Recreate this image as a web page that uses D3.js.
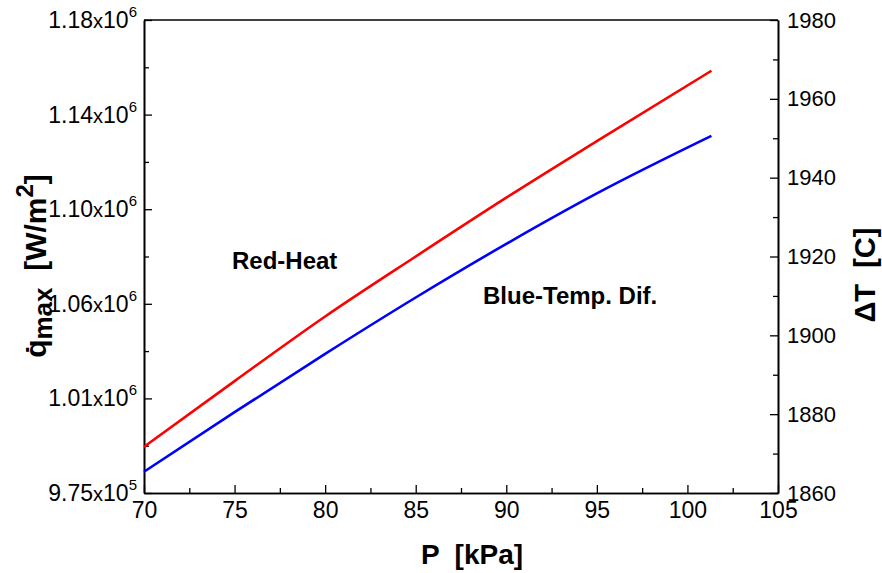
<!DOCTYPE html>
<html><head><meta charset="utf-8">
<script src="https://cdn.jsdelivr.net/npm/d3@7/dist/d3.min.js"></script>
<style>
body{margin:0;background:#fff}
svg text{font-family:Arial,"Liberation Sans",sans-serif;white-space:pre}
</style></head><body>
<svg id="c" width="882" height="573"></svg>
<script>
// data
const pressure = [70, 75, 80, 85, 90, 95, 101.325];
const heatFlux = [995000, 1023500, 1051500, 1077500, 1103000, 1127500, 1158000];
const tempDiff = [1865.4, 1880.5, 1895.3, 1909.6, 1923.2, 1936.0, 1950.6];
const xTicks = [70, 75, 80, 85, 90, 95, 100, 105];
const leftTickMantissa = ["9.75", "1.01", "1.06", "1.10", "1.14", "1.18"];
const leftTickExp = ["5", "6", "6", "6", "6", "6"];
const rightTicks = [1860, 1880, 1900, 1920, 1940, 1960, 1980];

const m = {l: 144, r: 778, t: 20, b: 493};
const svg = d3.select("#c");

const x = d3.scaleLinear().domain([70, 105]).range([m.l, m.r]);
const yL = d3.scaleLinear().domain([975000, 1180000]).range([m.b, m.t]);
const yR = d3.scaleLinear().domain([1860, 1980]).range([m.b, m.t]);

const leftTickVals = leftTickMantissa.map((d, i) => 975000 + i * 41000);
const leftMinor = leftTickVals.slice(0, -1).map(v => v + 20500);
const xMinor = xTicks.slice(0, -1).map(v => v + 2.5);
const rMinor = rightTicks.slice(0, -1).map(v => v + 10);

function styleAxis(g) {
  g.select(".domain").attr("stroke", "#000").attr("stroke-width", 1.6);
  g.selectAll(".tick line").attr("stroke", "#000").attr("stroke-width", 1.3);
}

// bottom axis
const gx = svg.append("g").attr("transform", `translate(0,${m.b})`)
  .call(d3.axisBottom(x).tickValues(xTicks).tickSize(-8).tickPadding(9).tickSizeOuter(0));
styleAxis(gx);
gx.selectAll(".tick text").attr("font-size", 23).attr("fill", "#000")
  .attr("font-family", "Arial, 'Liberation Sans', sans-serif");
const gxm = svg.append("g").attr("transform", `translate(0,${m.b})`)
  .call(d3.axisBottom(x).tickValues(xMinor).tickSize(-5).tickFormat("").tickSizeOuter(0));
styleAxis(gxm);

// left axis
const gl = svg.append("g").attr("transform", `translate(${m.l},0)`)
  .call(d3.axisLeft(yL).tickValues(leftTickVals).tickSize(-8).tickFormat("").tickSizeOuter(0));
styleAxis(gl);
const glm = svg.append("g").attr("transform", `translate(${m.l},0)`)
  .call(d3.axisLeft(yL).tickValues(leftMinor).tickSize(-5).tickFormat("").tickSizeOuter(0));
styleAxis(glm);
const ll = svg.append("g");
leftTickVals.forEach((v, i) => {
  const t = ll.append("text").attr("x", 137).attr("y", yL(v) + 8)
    .attr("text-anchor", "end").attr("font-size", 23).attr("fill", "#000");
  t.append("tspan").text(leftTickMantissa[i]);
  t.append("tspan").attr("font-size", 20).text("x");
  t.append("tspan").text("10");
  t.append("tspan").attr("font-size", 15).attr("dy", -11).text(leftTickExp[i]);
});

// right axis
const gr = svg.append("g").attr("transform", `translate(${m.r},0)`)
  .call(d3.axisRight(yR).tickValues(rightTicks).tickSize(-8).tickPadding(9)
    .tickFormat(d3.format("d")).tickSizeOuter(0));
styleAxis(gr);
gr.selectAll(".tick text").attr("font-size", 22).attr("fill", "#000")
  .attr("font-family", "Arial, 'Liberation Sans', sans-serif");
const grm = svg.append("g").attr("transform", `translate(${m.r},0)`)
  .call(d3.axisRight(yR).tickValues(rMinor).tickSize(-5).tickFormat("").tickSizeOuter(0));
styleAxis(grm);

// top frame line
svg.append("line").attr("x1", m.l).attr("x2", m.r).attr("y1", m.t).attr("y2", m.t)
  .attr("stroke", "#000").attr("stroke-width", 1.6);

// curves
const pts = pressure.map((p, i) => ({p, q: heatFlux[i], t: tempDiff[i]}));
const lineQ = d3.line().x(d => x(d.p)).y(d => yL(d.q)).curve(d3.curveMonotoneX);
const lineT = d3.line().x(d => x(d.p)).y(d => yR(d.t)).curve(d3.curveMonotoneX);
svg.append("path").datum(pts).attr("d", lineT).attr("fill", "none")
  .attr("stroke", "#0000ff").attr("stroke-width", 2.6);
svg.append("path").datum(pts).attr("d", lineQ).attr("fill", "none")
  .attr("stroke", "#ff0000").attr("stroke-width", 2.6);

// annotations
svg.append("text").attr("x", 232).attr("y", 269).attr("font-size", 24)
  .attr("font-weight", "bold").text("Red-Heat");
svg.append("text").attr("x", 483).attr("y", 304).attr("font-size", 24)
  .attr("font-weight", "bold").text("Blue-Temp. Dif.");

// axis titles
svg.append("text").attr("x", 472).attr("y", 564).attr("text-anchor", "middle")
  .attr("font-size", 28).attr("font-weight", "bold").text("P  [kPa]");

const yt = svg.append("text").attr("transform", "translate(46,266) rotate(-90)")
  .attr("text-anchor", "middle").attr("font-size", 30).attr("font-weight", "bold");
yt.append("tspan").text("q\u0307");
yt.append("tspan").attr("font-size", 26).attr("dy", 6).text("max");
yt.append("tspan").attr("dy", -6).text("  [W/m");
yt.append("tspan").attr("font-size", 24).attr("dy", -13).text("2");
yt.append("tspan").attr("dy", 13).text("]");

svg.append("text").attr("transform", "translate(875,275) rotate(-90)")
  .attr("text-anchor", "middle").attr("font-size", 29).attr("font-weight", "bold")
  .text("\u0394T  [C]");
</script>
</body></html>
